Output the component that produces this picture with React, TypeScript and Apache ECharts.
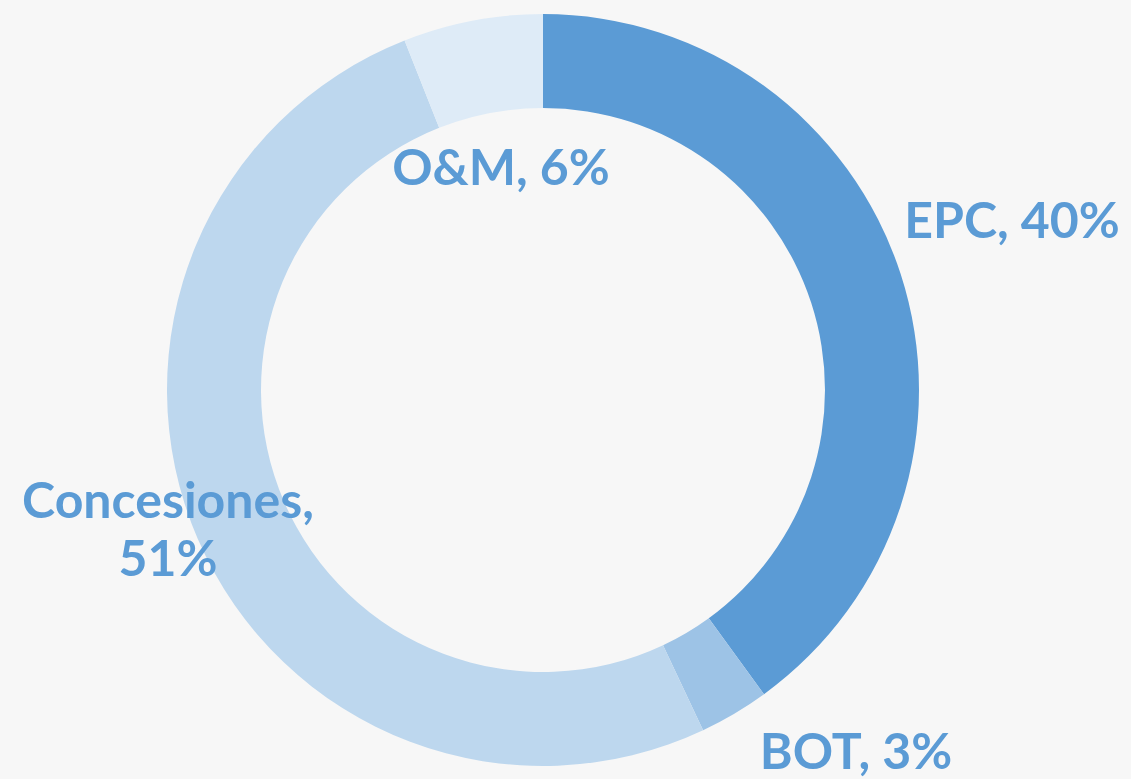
import React, { useEffect, useRef } from "react";
import * as echarts from "echarts";

const categories = ["EPC", "BOT", "Concesiones", "O&M"];
const values = [40, 3, 51, 6];
const colors = ["#5b9bd5", "#9dc3e6", "#bdd7ee", "#deebf7"];
const labelText = ["EPC, 40%", "BOT, 3%", "Concesiones,\n51%", "O&M, 6%"];
const labelPos: [number, number][] = [
  [1012, 219],
  [856, 750],
  [168, 528],
  [501, 166],
];

export default function App() {
  const ref = useRef<HTMLDivElement>(null);
  useEffect(() => {
    const chart = echarts.init(ref.current!, undefined, { renderer: "svg" });
    chart.setOption({
      animation: false,
      backgroundColor: "#f7f7f7",
      series: [
        {
          type: "pie",
          center: [543, 390],
          radius: [282, 376],
          startAngle: 90,
          clockwise: true,
          avoidLabelOverlap: false,
          itemStyle: { borderWidth: 0 },
          label: {
            show: true,
            position: "outside",
            color: "#5b9bd5",
            fontFamily: "Lato",
            fontWeight: "bold",
            fontSize: 50,
            lineHeight: 58,
            align: "center",
            formatter: (p: any) => labelText[p.dataIndex],
          },
          labelLine: { show: false },
          labelLayout: (p: any) => ({
            x: labelPos[p.dataIndex][0],
            y: labelPos[p.dataIndex][1],
            align: "center",
            verticalAlign: "middle",
          }),
          emphasis: { disabled: true },
          data: categories.map((c, i) => ({
            name: c,
            value: values[i],
            itemStyle: { color: colors[i] },
          })),
        },
      ],
    });
    return () => chart.dispose();
  }, []);
  return (
    <div
      ref={ref}
      style={{ position: "absolute", left: 0, top: 0, width: 1131, height: 779 }}
    />
  );
}
